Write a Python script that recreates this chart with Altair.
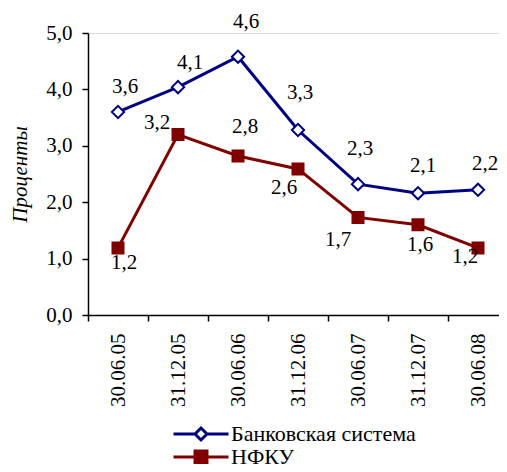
import altair as alt
import pandas as pd

# ---- data ----
dates = ["30.06.05", "31.12.05", "30.06.06", "31.12.06", "30.06.07", "31.12.07", "30.06.08"]
bank_values = [3.6, 4.04, 4.58, 3.28, 2.32, 2.16, 2.22]
bank_labels = ["3,6", "4,1", "4,6", "3,3", "2,3", "2,1", "2,2"]
nfku_values = [1.19, 3.2, 2.82, 2.59, 1.73, 1.6, 1.19]
nfku_labels = ["1,2", "3,2", "2,8", "2,6", "1,7", "1,6", "1,2"]
series_names = ["Банковская система", "НФКУ"]
y_ticks = [0, 1, 2, 3, 4, 5]
y_title = "Проценты"

# ---- styling ----
FONT = "Liberation Serif"
FS = 21
FS_LEGEND = 22
colors = ["#000080", "#800000"]
fills = ["white", "#800000"]
marker_shapes = ["diamond", "square"]
marker_sizes = [150, 121]
# legend symbols: line with marker in the middle (unit path, scaled by symbol size)
legend_paths = [
    "M-1,0H2.31M4.15,0H7.46M3.23,-0.92L4.15,0L3.23,0.92L2.31,0Z",
    "M-1,0H7.46M2.31,-0.92H4.15V0.92H2.31Z",
]
# label placement (dx, dy) in pixels, per point
label_offsets = {
    series_names[0]: [(7, -25), (12, -24), (8, -35), (2, -37), (2, -35), (5, -27), (7, -26)],
    series_names[1]: [(6, 15), (-21, -12), (7, -29), (-14, 19), (-20, 23), (2, 20), (-13, 9)],
}

rows = []
for name, vals, labs in [(series_names[0], bank_values, bank_labels),
                         (series_names[1], nfku_values, nfku_labels)]:
    for i, (d, v, l) in enumerate(zip(dates, vals, labs)):
        rows.append({"series": name, "i": i, "date": d, "value": v, "label": l})
df = pd.DataFrame(rows)

date_array = "[" + ",".join("'" + d + "'" for d in dates) + "]"

x_enc = alt.X(
    "i:Q",
    scale=alt.Scale(domain=[-0.5, 6.35], nice=False, zero=False),
    axis=alt.Axis(
        values=list(range(len(dates))),
        labelExpr=date_array + "[datum.value]",
        labelAngle=-90, tickOffset=-30, labelOffset=30, tickSize=6, labelPadding=12,
        grid=False, title=None,
        domainColor="black", tickColor="black", domainWidth=1.5, tickWidth=1.5,
        labelFont=FONT, labelFontSize=FS, labelColor="black",
    ),
)
y_enc = alt.Y(
    "value:Q",
    scale=alt.Scale(domain=[0, 5], nice=False),
    axis=alt.Axis(
        values=y_ticks,
        labelExpr="replace(format(datum.value, '.1f'), '.', ',')",
        tickSize=6, labelPadding=10, grid=False,
        title=y_title,
        titleFont=FONT, titleFontSize=FS, titleFontStyle="italic", titleFontWeight="normal",
        titleColor="black",
        titleX=-68, titleY=141, titleAngle=-90, titleAlign="center", titleBaseline="middle",
        domainColor="black", tickColor="black", domainWidth=1.5, tickWidth=1.5,
        labelFont=FONT, labelFontSize=FS, labelColor="black",
    ),
)

legend = alt.Legend(
    orient="none", legendX=81, legendY=390, direction="vertical", title=None,
    symbolSize=169, symbolStrokeWidth=3, symbolOpacity=1, labelOffset=40, labelLimit=400,
    labelFont=FONT, labelFontSize=FS_LEGEND, labelColor="black", rowPadding=-1, padding=0,
)

base = alt.Chart(df)

# one line + one marker layer per series (fixed styles, no legend)
line_layers = []
marker_layers = []
for k, name in enumerate(series_names):
    sub = base.transform_filter(alt.datum.series == name)
    line_layers.append(
        sub.mark_line(stroke=colors[k], strokeWidth=3).encode(x=x_enc, y=y_enc)
    )
    marker_layers.append(
        sub.mark_point(
            shape=marker_shapes[k], size=marker_sizes[k], filled=True,
            fill=fills[k], stroke=colors[k], strokeWidth=2, opacity=1,
        ).encode(x=x_enc, y=y_enc)
    )

# legend-only layer: draws nothing, its scales carry the legend entries
legend_layer = base.transform_filter("false").mark_point(
    filled=False, opacity=1, strokeWidth=3
).encode(
    x=x_enc, y=y_enc,
    color=alt.Color("series:N", scale=alt.Scale(domain=series_names, range=colors), legend=legend),
    fill=alt.Fill("series:N", scale=alt.Scale(domain=series_names, range=fills), legend=legend),
    shape=alt.Shape("series:N", scale=alt.Scale(domain=series_names, range=legend_paths), legend=legend),
)

text_layers = []
for name in series_names:
    for i, (dx, dy) in enumerate(label_offsets[name]):
        text_layers.append(
            base.transform_filter(
                (alt.datum.series == name) & (alt.datum.i == i)
            ).mark_text(
                font=FONT, fontSize=FS, color="black", align="center", baseline="middle",
                dx=dx, dy=dy,
            ).encode(x=x_enc, y=y_enc, text="label:N")
        )

chart = alt.layer(*line_layers, *marker_layers, legend_layer, *text_layers).properties(
    width=411, height=282,
    autosize=alt.AutoSizeParams(type="none"),
    padding={"left": 80, "top": 25, "right": 0, "bottom": 149},
).configure_view(stroke=None).configure(background="white")

chart.save("out.html", embed_options={"renderer": "svg", "actions": False})
